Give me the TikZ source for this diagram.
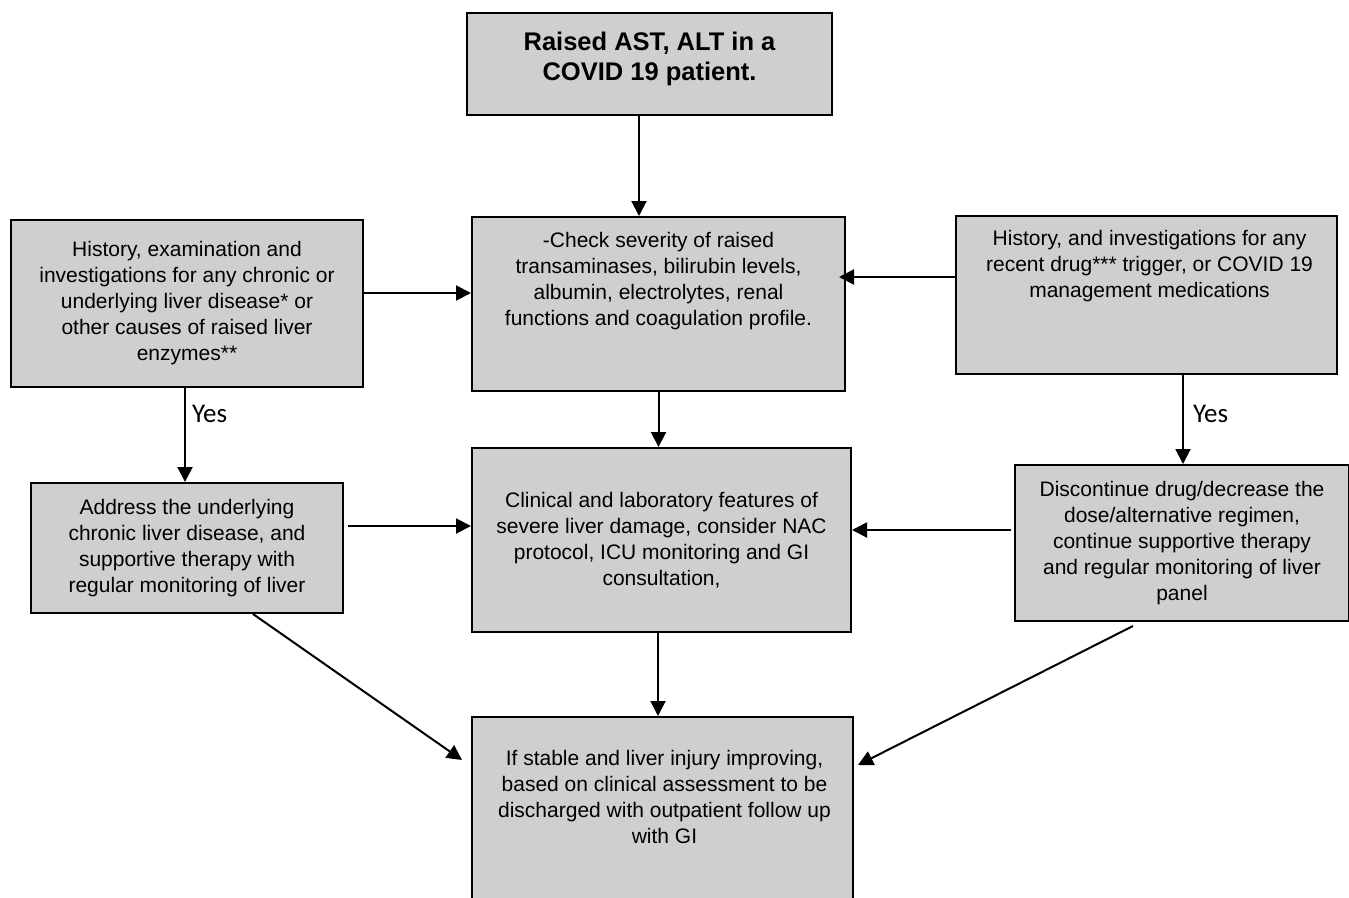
\documentclass[tikz,border=0pt]{standalone}
\usepackage{fontspec}
\setmainfont{Liberation Sans}
\newfontfamily\yesfont{Carlito}
\usetikzlibrary{positioning}
\usetikzlibrary{arrows.meta}
\definecolor{boxgray}{RGB}{208,206,206}

\begin{document}
\begin{tikzpicture}
      [ x=1pt, y=-1pt
        , every node/.style={inner sep=0pt}
        , box/.style={draw, fill=boxgray, line width=2pt}
        , txt/.style={align=center, font=\fontsize{21}{26}\selectfont}
        , arr/.style={line width=2pt, -{Triangle[length=15pt,width=15pt]}}
        , yeslbl/.style={font=\yesfont\fontsize{27}{30}\selectfont}
      ]
      \useasboundingbox (0,0) rectangle (1349,897);

      % boxes
      \node (top) [box, minimum width=365pt, minimum height=102pt] at (649.5,64) {};
      \node (toptxt) [align=center, font=\bfseries\fontsize{25.5}{30}\selectfont, below=19.4pt of top.north]
        {Raised AST, ALT in a\\COVID 19 patient.};

      \node (c1) [box, minimum width=373pt, minimum height=174pt] at (658.5,304) {};
      \node (c1txt) [txt, below=15.7pt of c1.north]
        {-Check severity of raised\\transaminases, bilirubin levels,\\albumin, electrolytes, renal\\functions and coagulation profile.};

      \node (l1) [box, txt, minimum width=352pt, minimum height=167pt] at (187,303.5)
        {History, examination and\\investigations for any chronic or\\underlying liver disease* or\\other causes of raised liver\\enzymes**};

      \node (r1) [box, minimum width=381pt, minimum height=158pt] at (1146.5,295) {};
      \node (r1txt) [txt, below=14.7pt of r1.north, xshift=3pt]
        {History, and investigations for any\\recent drug*** trigger, or COVID 19\\management medications};

      \node (c2) [box, txt, minimum width=379pt, minimum height=184pt] at (661.5,540)
        {Clinical and laboratory features of\\severe liver damage, consider NAC\\protocol, ICU monitoring and GI\\consultation,};

      \node (l2) [box, txt, minimum width=312pt, minimum height=130pt] at (187,548)
        {Address the underlying\\chronic liver disease, and\\supportive therapy with\\regular monitoring of liver};

      \node (r2) [box, txt, minimum width=334pt, minimum height=156pt] at (1182,543)
        {Discontinue drug/decrease the\\dose/alternative regimen,\\continue supportive therapy\\and regular monitoring of liver\\panel};

      \node (bot) [box, minimum width=381pt, minimum height=243pt] at (662.5,838.5) {};
      \node (bottxt) [txt, below=33.7pt of bot.north, xshift=2pt]
        {If stable and liver injury improving,\\based on clinical assessment to be\\discharged with outpatient follow up\\with GI};

      % arrows
      \draw[arr] ([xshift=-10.5pt]top.south) -- ([xshift=-19.5pt]c1.north);
      \draw[arr] ([yshift=10.5pt]l1.east) -- ([yshift=11pt]c1.west);
      \draw[arr, shorten >=-7pt] ([yshift=18pt]r1.west) -- ([yshift=27pt]c1.east);
      \draw[arr] (c1.south) -- ([xshift=-3pt]c2.north);
      \draw[arr] ([xshift=-2pt]l1.south) -- node (yesl) [yeslbl, pos=0.28, right=6pt] {Yes} ([xshift=-2pt]l2.north);
      \draw[arr] ([xshift=36.5pt]r1.south) -- node (yesr) [yeslbl, pos=0.44, right=9pt] {Yes} ([xshift=1pt]r2.north);
      \draw[arr, shorten <=4pt] ([yshift=22pt]l2.east) -- ([yshift=14pt]c2.west);
      \draw[arr, shorten <=3pt] ([yshift=13pt]r2.west) -- ([yshift=10pt]c2.east);
      \draw[arr] ([xshift=-3.5pt]c2.south) -- ([xshift=-4.5pt]bot.north);

      \coordinate (lend) at (462,760);
      \coordinate (rend) at (858,765);
      \draw[arr] ([xshift=66pt]l2.south) -- (lend);
      \draw[arr] ([xshift=-49pt,yshift=-4pt]r2.south) -- (rend);

    \end{tikzpicture}
\end{document}
